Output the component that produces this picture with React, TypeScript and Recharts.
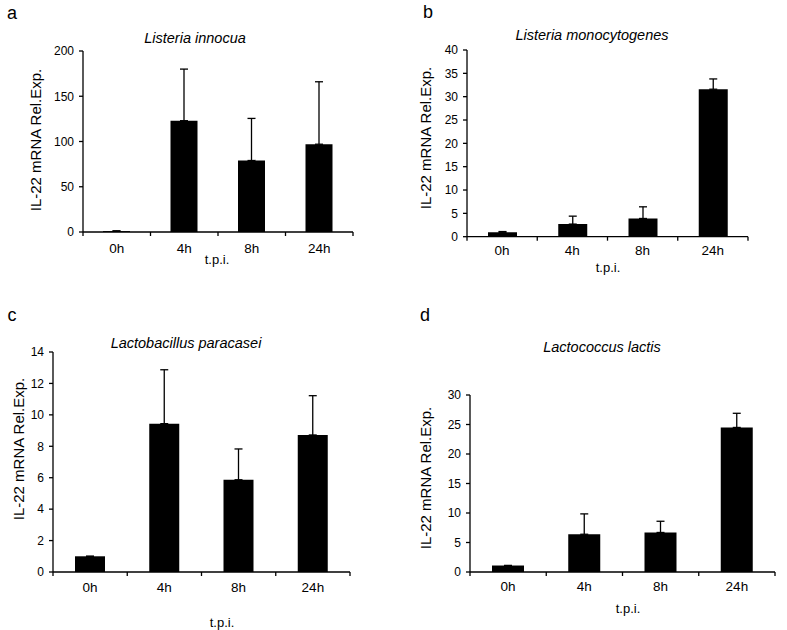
import React from 'react';
import { BarChart, Bar, XAxis, YAxis, ErrorBar } from 'recharts';

// ---- data ----
const timePoints = ['0h', '4h', '8h', '24h'];

const innocuaMean = [1, 123, 79, 97];
const innocuaErr = [0.3, 57, 46.5, 69];
const innocuaTicks = [0, 50, 100, 150, 200];

const monoMean = [0.95, 2.7, 3.9, 31.6];
const monoErr = [0.15, 1.7, 2.5, 2.2];
const monoTicks = [0, 5, 10, 15, 20, 25, 30, 35, 40];

const paracaseiMean = [1.0, 9.44, 5.87, 8.72];
const paracaseiErr = [0, 3.43, 1.96, 2.5];
const paracaseiTicks = [0, 2, 4, 6, 8, 10, 12, 14];

const lactisMean = [1.1, 6.4, 6.7, 24.5];
const lactisErr = [0, 3.45, 1.9, 2.4];
const lactisTicks = [0, 5, 10, 15, 20, 25, 30];

const buildRows = (mean: number[], err: number[]) =>
  timePoints.map((t, i) => ({ t, v: mean[i], e: [0, err[i]] }));

const FONT = '"Liberation Sans", Arial, sans-serif';

type PanelCfg = {
  letter: string;
  title: string;
  rows: { t: string; v: number; e: number[] }[];
  ticks: number[];
  plot: { l: number; r: number; t: number; b: number };
  barSize: number;
  tickGap: number;
  titlePos: [number, number];
  letterPos: [number, number];
  yLabelPos: [number, number];
  tpiPos: [number, number];
};

const panels: PanelCfg[] = [
  {
    letter: 'a', title: 'Listeria innocua', rows: buildRows(innocuaMean, innocuaErr), ticks: innocuaTicks,
    plot: { l: 83, r: 353, t: 51, b: 232 }, barSize: 27, tickGap: 16,
    titlePos: [195, 38], letterPos: [12, 13], yLabelPos: [35, 140], tpiPos: [217, 259],
  },
  {
    letter: 'b', title: 'Listeria monocytogenes', rows: buildRows(monoMean, monoErr), ticks: monoTicks,
    plot: { l: 467, r: 748, t: 50, b: 236.7 }, barSize: 29, tickGap: 14,
    titlePos: [592, 35], letterPos: [428, 12], yLabelPos: [425, 138], tpiPos: [608, 266.7],
  },
  {
    letter: 'c', title: 'Lactobacillus paracasei', rows: buildRows(paracaseiMean, paracaseiErr), ticks: paracaseiTicks,
    plot: { l: 53, r: 350, t: 352, b: 572 }, barSize: 30, tickGap: 15,
    titlePos: [186, 343], letterPos: [12, 315], yLabelPos: [18, 449], tpiPos: [222, 622],
  },
  {
    letter: 'd', title: 'Lactococcus lactis', rows: buildRows(lactisMean, lactisErr), ticks: lactisTicks,
    plot: { l: 470, r: 775, t: 395, b: 572 }, barSize: 32, tickGap: 14,
    titlePos: [602, 347], letterPos: [425, 315], yLabelPos: [425, 478], tpiPos: [628, 608],
  },
];

const makeXTick = (half: number, gap: number) => (props: any) => {
  const { x, y, payload, index, visibleTicksCount } = props;
  const h = payload && typeof payload.offset === 'number' && payload.offset > 0 ? payload.offset : half;
  const last = index === (visibleTicksCount ?? 4) - 1;
  return (
    <g>
      <line x1={x - h} x2={x - h} y1={y} y2={y + 4} stroke="#000" strokeWidth={1.3} />
      {last && <line x1={x + h} x2={x + h} y1={y} y2={y + 4} stroke="#000" strokeWidth={1.3} />}
      <text x={x} y={y + gap} textAnchor="middle" dominantBaseline="central" fontSize={13.5} fontFamily={FONT} fill="#000">
        {payload.value}
      </text>
    </g>
  );
};

const abs = (x: number, y: number, extra: React.CSSProperties = {}): React.CSSProperties => ({
  position: 'absolute', left: x, top: y, transform: 'translate(-50%, -50%)', whiteSpace: 'nowrap',
  fontFamily: FONT, color: '#000', lineHeight: 1, ...extra,
});

const Panel = ({ p }: { p: PanelCfg }) => {
  const yW = 60;
  const xH = 30;
  const plotW = p.plot.r - p.plot.l;
  const plotH = p.plot.b - p.plot.t;
  const width = plotW + yW + 10;
  const height = plotH + 10 + xH + 20;
  const max = p.ticks[p.ticks.length - 1];
  return (
    <>
      <div style={{ position: 'absolute', left: p.plot.l - yW, top: p.plot.t - 10 }}>
        <BarChart width={width} height={height} data={p.rows} margin={{ top: 10, right: 10, left: 0, bottom: 20 }}>
          <XAxis
            dataKey="t"
            height={xH}
            tickSize={0}
            tickMargin={0}
            axisLine={{ stroke: '#000', strokeWidth: 1.3 }}
            tickLine={false}
            tick={makeXTick(plotW / 8, p.tickGap)}
            interval={0}
          />
          <YAxis
            width={yW}
            domain={[0, max]}
            ticks={p.ticks}
            allowDataOverflow
            tickSize={4}
            tickMargin={5}
            axisLine={{ stroke: '#000', strokeWidth: 1.3 }}
            tickLine={{ stroke: '#000', strokeWidth: 1.3 }}
            tick={{ fontSize: 12, fill: '#000', fontFamily: FONT }}
            interval={0}
          />
          <Bar dataKey="v" fill="#000" barSize={p.barSize} isAnimationActive={false}>
            <ErrorBar dataKey="e" width={4} stroke="#000" strokeWidth={1.3} direction="y" />
          </Bar>
        </BarChart>
      </div>
      <div style={abs(p.titlePos[0], p.titlePos[1], { fontSize: 14.5, fontStyle: 'italic' })}>{p.title}</div>
      <div style={abs(p.letterPos[0], p.letterPos[1], { fontSize: 18 })}>{p.letter}</div>
      <div style={abs(p.yLabelPos[0], p.yLabelPos[1], { fontSize: 15, transform: 'translate(-50%, -50%) rotate(-90deg)' })}>
        IL-22 mRNA Rel.Exp.
      </div>
      <div style={abs(p.tpiPos[0], p.tpiPos[1], { fontSize: 13 })}>t.p.i.</div>
    </>
  );
};

export default function App() {
  return (
    <div style={{ position: 'absolute', left: 0, top: 0, width: 787, height: 630, background: '#fff', overflow: 'hidden' }}>
      {panels.map((p) => (
        <Panel key={p.letter} p={p} />
      ))}
    </div>
  );
}
